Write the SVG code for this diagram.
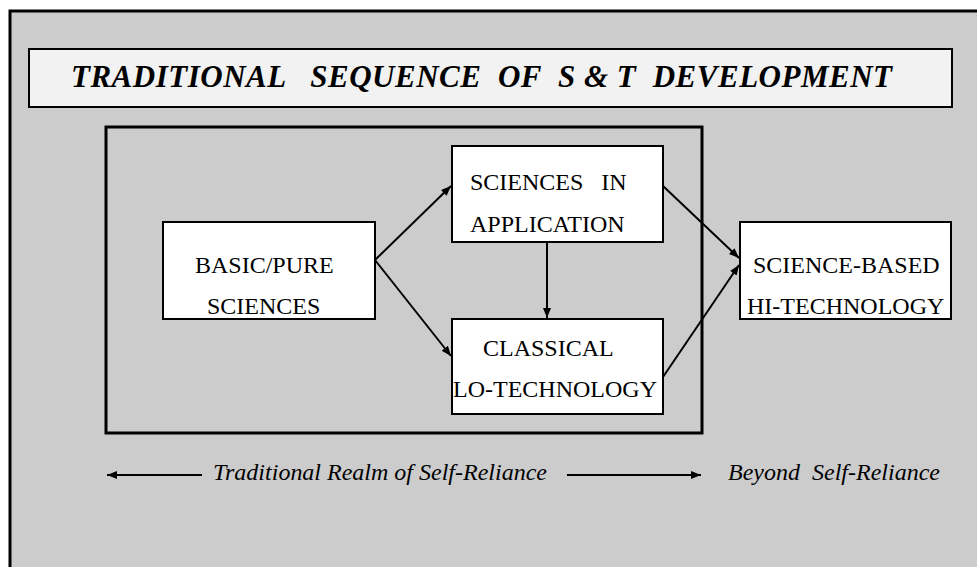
<svg xmlns="http://www.w3.org/2000/svg" width="977" height="567" viewBox="0 0 977 567">
  <style>
    .frame { fill: #cccccc; stroke: #000; stroke-width: 3; }
    .titlebox { fill: #f2f2f2; stroke: #000; stroke-width: 2; }
    .realm { fill: none; stroke: #000; stroke-width: 3; }
    .node rect { fill: #fff; stroke: #000; stroke-width: 2; }
    .node text, .label { font-family: "Liberation Serif", "Times New Roman", serif; font-size: 24px; fill: #000; }
    .title { font-family: "Liberation Serif", "Times New Roman", serif; font-size: 31px; font-weight: bold; font-style: italic; fill: #000; }
    .label { font-style: italic; }
    .edge { fill: none; stroke: #000; stroke-width: 2; }
  </style>
  <defs>
    <marker id="arrow" markerUnits="userSpaceOnUse" markerWidth="11" markerHeight="9" refX="10" refY="4" orient="auto-start-reverse">
      <path d="M0,0 L10,4 L0,8 Z" fill="#000"/>
    </marker>
  </defs>

  <rect width="977" height="567" fill="#fff"/>
  <rect class="frame" x="10" y="11" width="990" height="580"/>

  <g id="title">
    <rect class="titlebox" x="29" y="49" width="923" height="58"/>
    <text class="title" x="71" y="87" xml:space="preserve" textLength="821" lengthAdjust="spacing">TRADITIONAL   SEQUENCE  OF  S &amp; T  DEVELOPMENT</text>
  </g>

  <rect id="traditional-realm" class="realm" x="106" y="127" width="596" height="306"/>

  <g id="basic-pure-sciences" class="node">
    <rect x="163" y="222" width="212" height="97"/>
    <text x="195" y="273">BASIC/PURE</text>
    <text x="207" y="314">SCIENCES</text>
  </g>

  <g id="sciences-in-application" class="node">
    <rect x="452" y="146" width="211" height="96"/>
    <text x="470" y="190" xml:space="preserve">SCIENCES   IN</text>
    <text x="470" y="232">APPLICATION</text>
  </g>

  <g id="classical-lo-technology" class="node">
    <rect x="452" y="319" width="211" height="95"/>
    <text x="483" y="356">CLASSICAL</text>
    <text x="453" y="397">LO-TECHNOLOGY</text>
  </g>

  <g id="science-based-hi-technology" class="node">
    <rect x="740" y="222" width="211" height="97"/>
    <text x="753" y="273">SCIENCE-BASED</text>
    <text x="747" y="314">HI-TECHNOLOGY</text>
  </g>

  <g id="connectors">
    <line class="edge" x1="375" y1="260" x2="451" y2="186" marker-end="url(#arrow)"/>
    <line class="edge" x1="375" y1="260" x2="451" y2="356" marker-end="url(#arrow)"/>
    <line class="edge" x1="547" y1="242" x2="547" y2="318" marker-end="url(#arrow)"/>
    <line class="edge" x1="663" y1="186" x2="739" y2="258" marker-end="url(#arrow)"/>
    <line class="edge" x1="663" y1="377" x2="739" y2="265" marker-end="url(#arrow)"/>
    <line class="edge" x1="202" y1="475" x2="107" y2="475" marker-end="url(#arrow)"/>
    <line class="edge" x1="567" y1="475" x2="701" y2="475" marker-end="url(#arrow)"/>
  </g>

  <g id="realm-labels">
    <text class="label" x="213" y="480" textLength="334" lengthAdjust="spacing">Traditional Realm of Self-Reliance</text>
    <text class="label" x="728" y="480" xml:space="preserve" textLength="212" lengthAdjust="spacing">Beyond  Self-Reliance</text>
  </g>
</svg>
